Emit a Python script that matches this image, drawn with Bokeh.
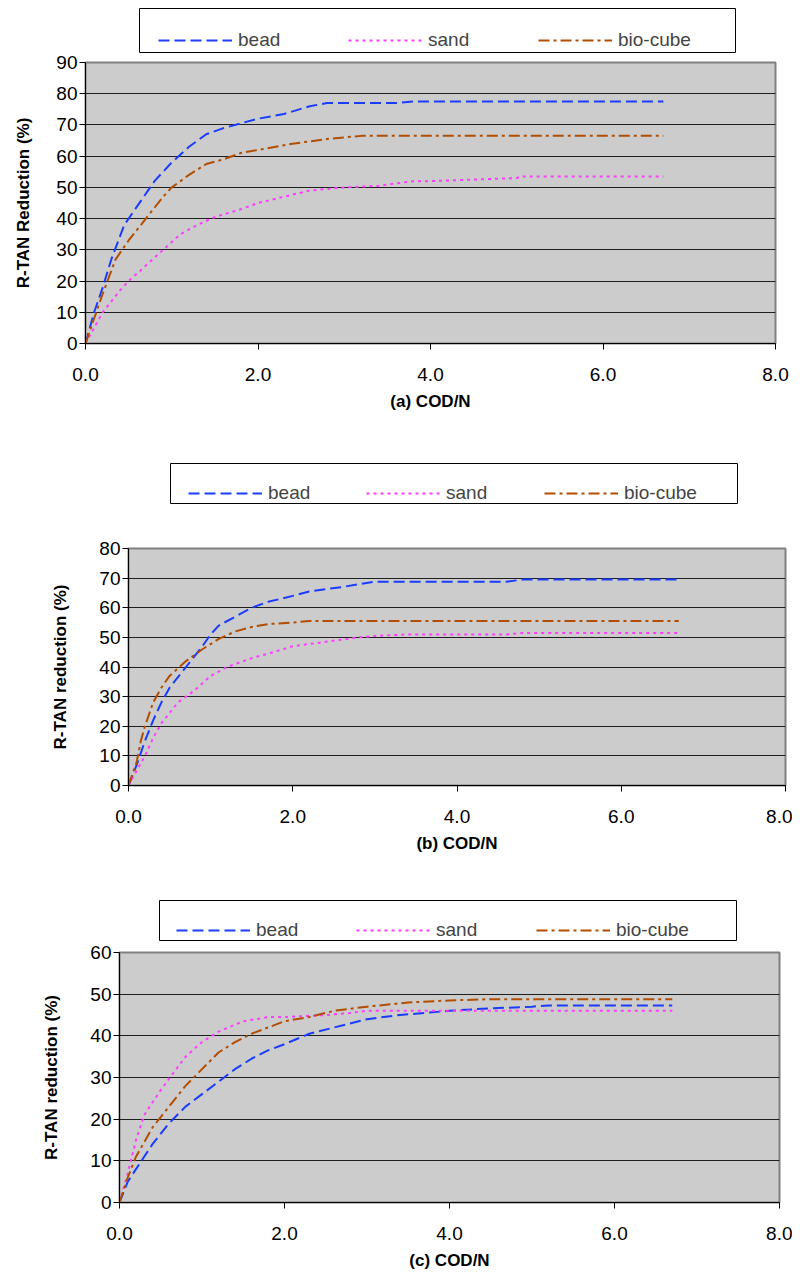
from bokeh.plotting import figure
from bokeh.layouts import column
from bokeh.models import Range1d, FixedTicker, PrintfTickFormatter, Legend, LegendItem
from bokeh.embed import file_html
from bokeh.resources import INLINE

# ---------------- data ----------------
series_names = ["bead", "sand", "bio-cube"]

# panel (a)
a_bead_x = [0, 0.1, 0.2, 0.3, 0.45, 0.6, 0.8, 1.0, 1.2, 1.4, 1.6, 1.8, 2.0, 2.3, 2.6, 2.8, 3.2, 3.6, 3.8, 5.0, 6.7]
a_bead_y = [0, 10, 18, 27, 38, 44, 52, 58, 63, 67, 69, 70.5, 72, 73.5, 76, 77, 77, 77, 77.5, 77.5, 77.5]
a_sand_x = [0, 0.1, 0.2, 0.4, 0.5, 0.7, 0.9, 1.1, 1.3, 1.5, 1.8, 2.0, 2.3, 2.6, 3.0, 3.4, 3.8, 4.0, 5.0, 5.05, 6.7]
a_sand_y = [0, 5, 10, 17, 20, 25, 30, 35, 38, 40.5, 43, 45, 47, 49, 50, 50.5, 52, 52, 53, 53.5, 53.5]
a_bio_x = [0, 0.1, 0.2, 0.35, 0.5, 0.7, 0.9, 1.0, 1.2, 1.4, 1.6, 1.8, 2.0, 2.4, 2.8, 3.2, 6.7]
a_bio_y = [0, 8, 16, 27, 33, 40, 47, 50, 54, 57.5, 59, 61, 62, 64, 65.5, 66.5, 66.5]

# panel (b)
b_bead_x = [0, 0.1, 0.2, 0.3, 0.4, 0.5, 0.7, 0.9, 1.0, 1.1, 1.3, 1.5, 1.7, 2.0, 2.2, 2.6, 3.0, 3.5, 4.6, 4.8, 6.7]
b_bead_y = [0, 7, 15, 22, 28, 33, 40, 47, 51, 54, 57, 60, 62, 64, 65.5, 67, 68.8, 68.8, 68.8, 69.5, 69.5]
b_sand_x = [0, 0.1, 0.2, 0.3, 0.4, 0.6, 0.8, 1.0, 1.2, 1.5, 1.7, 2.0, 2.4, 2.8, 3.0, 3.4, 4.6, 4.8, 6.7]
b_sand_y = [0, 5, 10, 16, 21, 28, 32, 37, 40, 43, 44.5, 47, 48.5, 50, 50.5, 51, 51, 51.5, 51.5]
b_bio_x = [0, 0.1, 0.15, 0.2, 0.3, 0.4, 0.5, 0.7, 0.9, 1.1, 1.3, 1.5, 1.7, 2.0, 2.2, 6.7]
b_bio_y = [0, 8, 15, 20, 28, 33, 37, 42, 46, 49.5, 52, 53.5, 54.5, 55, 55.5, 55.5]

# panel (c)
c_bead_x = [0, 0.1, 0.2, 0.4, 0.6, 0.8, 1.0, 1.2, 1.4, 1.6, 1.8, 2.0, 2.3, 2.6, 3.0, 3.4, 4.0, 4.4, 5.0, 5.2, 6.7]
c_bead_y = [0, 5, 8, 14, 19, 23, 26, 29, 32, 34.5, 36.5, 38, 40.5, 42, 44, 45, 46, 46.5, 47, 47.3, 47.3]
c_sand_x = [0, 0.1, 0.2, 0.3, 0.5, 0.65, 0.8, 1.0, 1.2, 1.5, 1.8, 2.0, 2.5, 2.8, 3.0, 6.7]
c_sand_y = [0, 7, 15, 21, 27, 31, 35, 38.5, 41, 43.5, 44.5, 44.5, 45, 45.5, 46, 46]
c_bio_x = [0, 0.1, 0.2, 0.4, 0.6, 0.8, 1.0, 1.2, 1.4, 1.6, 1.8, 2.0, 2.3, 2.6, 3.0, 3.5, 4.0, 4.5, 6.7]
c_bio_y = [0, 6, 11, 18, 23, 28, 32, 36, 38.5, 40.5, 42, 43.5, 44.5, 46, 47, 48, 48.5, 48.8, 48.8]

x_ticks = [0, 2, 4, 6, 8]
a_y_ticks = [0, 10, 20, 30, 40, 50, 60, 70, 80, 90]
b_y_ticks = [0, 10, 20, 30, 40, 50, 60, 70, 80]
c_y_ticks = [0, 10, 20, 30, 40, 50, 60]

# ---------------- style ----------------
colors = {"bead": "#1a3cff", "sand": "#ff3cff", "bio-cube": "#b34d00"}
dashes = {"bead": "11 5", "sand": "3 4", "bio-cube": "11 4 3 4"}
FONT = "'Liberation Sans', Arial, sans-serif"


def make_legend_fig(series, box, borders, loc, label_w):
    """Small white figure whose frame outline is the legend box."""
    bw, bh = box
    left, top, bottom = borders
    lf = figure(width=left + bw + 1, height=top + bh + bottom, sizing_mode="fixed",
                min_border_left=left, min_border_right=1,
                min_border_top=top, min_border_bottom=bottom,
                x_axis_type=None, y_axis_type=None,
                x_range=Range1d(-2, -1), y_range=Range1d(-2, -1),
                output_backend="svg", toolbar_location=None)
    lf.frame_align = False
    lf.outline_line_color = "black"
    lf.outline_line_width = 1
    lf.background_fill_color = "white"
    lf.border_fill_color = "white"
    lf.xgrid.visible = False
    lf.ygrid.visible = False
    items = []
    for name, (xs, ys) in zip(series_names, series):
        # same series, outside this figure's visible range: only its legend glyph shows
        r = lf.line(xs, ys, line_color=colors[name], line_dash=dashes[name], line_width=2)
        items.append(LegendItem(label=name, renderers=[r]))
    lg = Legend(items=items, orientation="horizontal", location=loc,
                border_line_color=None,
                background_fill_alpha=0,
                padding=10, margin=0, spacing=0, glyph_width=74,
                label_standoff=6, label_width=label_w,
                label_text_font=FONT, label_text_font_size="19px")
    lf.add_layout(lg, "center")
    return lf


def make_panel(series, y_ticks, xlabel, ylabel, size, borders, ylab_standoff):
    w, h = size
    left, right, top, bottom = borders
    p = figure(width=w, height=h, sizing_mode="fixed",
               min_border_left=left, min_border_right=right,
               min_border_top=top, min_border_bottom=bottom,
               x_range=Range1d(0, 8), y_range=Range1d(0, y_ticks[-1]),
               output_backend="svg", toolbar_location=None)
    p.frame_align = False
    p.background_fill_color = "#cccccc"
    p.border_fill_color = "white"
    p.outline_line_color = "#808080"
    p.outline_line_width = 2

    for name, (xs, ys) in zip(series_names, series):
        p.line(xs, ys, line_color=colors[name], line_dash=dashes[name], line_width=2)

    p.xgrid.visible = False
    p.ygrid.grid_line_color = "black"
    p.ygrid.grid_line_width = 1
    p.ygrid.grid_line_alpha = 0.85

    p.xaxis.ticker = FixedTicker(ticks=x_ticks)
    p.xaxis.formatter = PrintfTickFormatter(format="%.1f")
    p.yaxis.ticker = FixedTicker(ticks=y_ticks)
    for ax in (p.xaxis[0], p.yaxis[0]):
        ax.axis_line_color = "black"
        ax.major_tick_line_color = "black"
        ax.major_tick_out = 6
        ax.major_tick_in = 0
        ax.minor_tick_line_color = None
        ax.major_label_text_font = FONT
        ax.major_label_text_font_size = "19px"
        ax.major_label_text_color = "black"
        ax.axis_label_text_color = "black"
        ax.axis_label_text_font = FONT
        ax.axis_label_text_font_style = "bold"
        ax.axis_label_text_font_size = "17px"
    p.xaxis.major_label_standoff = 18
    p.xaxis.axis_label = xlabel
    p.xaxis.axis_label_standoff = 8
    p.yaxis.major_label_standoff = 2
    p.yaxis.axis_label = ylabel
    p.yaxis.axis_label_standoff = ylab_standoff
    return p


series_a = [(a_bead_x, a_bead_y), (a_sand_x, a_sand_y), (a_bio_x, a_bio_y)]
series_b = [(b_bead_x, b_bead_y), (b_sand_x, b_sand_y), (b_bio_x, b_bio_y)]
series_c = [(c_bead_x, c_bead_y), (c_sand_x, c_sand_y), (c_bio_x, c_bio_y)]

leg_a = make_legend_fig(series_a, (596, 44), (139, 8, 1), (19, 1), 110)
pa = make_panel(series_a, a_y_ticks, "(a) COD/N", "R-TAN Reduction (%)",
                (792, 409), (85, 17, 9, 119), 20)
leg_b = make_legend_fig(series_b, (567, 40), (170, 1, 1), (18, -1), 98)
pb = make_panel(series_b, b_y_ticks, "(b) COD/N", "R-TAN reduction (%)",
                (792, 395), (128, 7, 44, 114), 26)
leg_c = make_legend_fig(series_c, (577, 40), (159, 1, 1), (17, -1), 100)
pc = make_panel(series_c, c_y_ticks, "(c) COD/N", "R-TAN reduction (%)",
                (792, 331), (119, 13, 11, 59), 26)

layout = column(leg_a, pa, leg_b, pb, leg_c, pc, spacing=0, sizing_mode="fixed")
open("out.html", "w").write(file_html(layout, INLINE))
